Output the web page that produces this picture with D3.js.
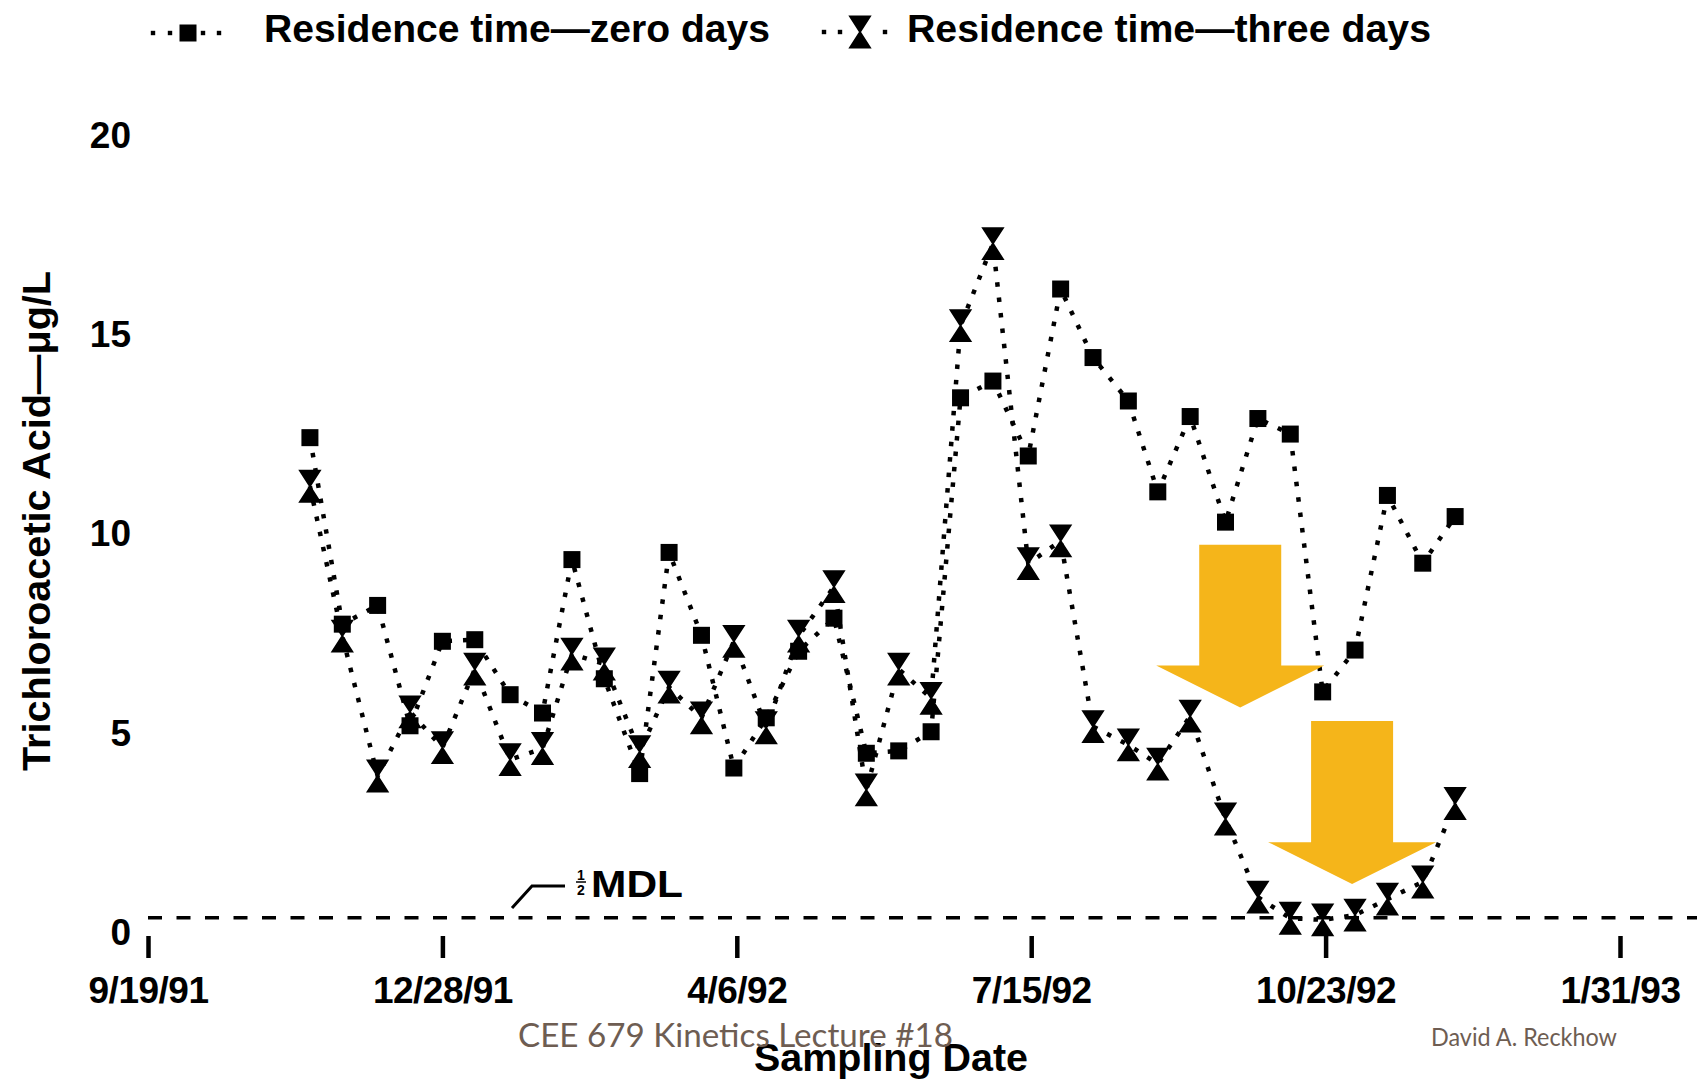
<!DOCTYPE html>
<html>
<head>
<meta charset="utf-8">
<script src="https://cdn.jsdelivr.net/npm/d3@7"></script>
<style>
  html, body { margin: 0; background: #fff; }
  svg { display: block; }
</style>
</head>
<body>
<svg id="chart" width="1697" height="1079"></svg>
<script>
// Trichloroacetic acid (µg/L) in distribution samples, two residence times
const sampleDates = [
  "11/13/91","11/24/91","12/6/91","12/17/91","12/28/91","1/8/92","1/20/92","1/31/92",
  "2/10/92","2/21/92","3/4/92","3/14/92","3/25/92","4/5/92","4/16/92","4/27/92",
  "5/9/92","5/20/92","5/31/92","6/11/92","6/21/92","7/2/92","7/14/92","7/25/92",
  "8/5/92","8/17/92","8/27/92","9/7/92","9/19/92","9/30/92","10/11/92","10/22/92",
  "11/2/92","11/13/92","11/25/92","12/6/92"
];
const zeroDays = [
  12.38, 7.7, 8.17, 5.15, 7.27, 7.31, 5.93, 5.47, 9.32, 6.33, 3.95, 9.5,
  7.42, 4.09, 5.35, 7.02, 7.85, 4.46, 4.52, 5.0, 13.38, 13.8, 11.92, 16.11,
  14.39, 13.3, 11.02, 12.91, 10.26, 12.86, 12.47, 6.0, 7.05, 10.93, 9.23, 10.4
];
const threeDays = [
  11.16, 7.4, 3.89, 5.5, 4.6, 6.57, 4.3, 4.58, 6.95, 6.7, 4.5, 6.12,
  5.35, 7.27, 5.1, 7.4, 8.64, 3.54, 6.57, 5.84, 15.19, 17.25, 9.22, 9.79,
  5.13, 4.67, 4.19, 5.39, 2.81, 0.85, 0.32, 0.28, 0.4, 0.8, 1.23, 3.2
];
const seriesNames = ["Residence time\u2014zero days", "Residence time\u2014three days"];
const xTickDates = ["9/19/91","12/28/91","4/6/92","7/15/92","10/23/92","1/31/93"];
const yTicks = [0, 5, 10, 15, 20];
const halfMDL = 0.33;
// highlight arrows: centre date, top of shaft, base of head, tip (µg/L)
const arrowDates = ["9/24/92", "11/1/92"];
const arrowTop = [9.69, 5.27];
const arrowBase = [6.66, 2.23];
const arrowTip = [5.61, 1.18];

const parse = d3.utcParse("%m/%d/%y");
const fmt = d3.utcFormat("%-m/%-d/%y");
const FONT = "'Liberation Sans', Arial, Helvetica, sans-serif";

const svg = d3.select("#chart");
svg.append("rect").attr("width", 1697).attr("height", 1079).attr("fill", "#fff");

const x = d3.scaleUtc()
  .domain([parse(xTickDates[0]), parse(xTickDates[xTickDates.length - 1])])
  .range([148, 1620]);
const y = d3.scaleLinear().domain([0, 20]).range([931, 134]);

const dates = sampleDates.map(parse);
const series = [
  { name: seriesNames[0], values: zeroDays, symbol: "square" },
  { name: seriesNames[1], values: threeDays, symbol: "hourglass" }
];

// marker shapes
const squareSize = 17;
function hourglassPath(w, h) {
  return `M${-w / 2},${-h / 2}H${w / 2}L0,0L${w / 2},${h / 2}H${-w / 2}L0,0Z`;
}
function drawSymbol(g, type) {
  if (type === "square") {
    g.append("rect").attr("x", -squareSize / 2).attr("y", -squareSize / 2)
      .attr("width", squareSize).attr("height", squareSize).attr("fill", "#000");
  } else {
    g.append("path").attr("d", hourglassPath(20, 31))
      .attr("fill", "#000").attr("stroke", "#000").attr("stroke-width", 1.8)
      .attr("stroke-linejoin", "miter");
  }
}

// ½ MDL reference line
svg.append("line")
  .attr("x1", x(parse(xTickDates[0]))).attr("x2", 1697)
  .attr("y1", y(halfMDL)).attr("y2", y(halfMDL))
  .attr("stroke", "#000").attr("stroke-width", 3.5)
  .attr("stroke-dasharray", "14 14.5");

// ½ MDL label with leader
svg.append("polyline")
  .attr("points", `512,908 532,886 565,886`)
  .attr("fill", "none").attr("stroke", "#000").attr("stroke-width", 3);
const frac = svg.append("g").attr("font-family", FONT).attr("font-weight", "bold")
  .attr("font-size", 14).attr("text-anchor", "middle");
frac.append("text").attr("x", 581).attr("y", 880).text("1");
frac.append("line").attr("x1", 576).attr("x2", 586).attr("y1", 882).attr("y2", 882)
  .attr("stroke", "#000").attr("stroke-width", 1.5);
frac.append("text").attr("x", 581).attr("y", 895).text("2");
svg.append("text").attr("x", 591).attr("y", 897)
  .attr("font-family", FONT).attr("font-weight", "bold").attr("font-size", 37)
  .attr("textLength", 92).attr("lengthAdjust", "spacingAndGlyphs")
  .text("MDL");

// series lines (dotted)
const line = d3.line().x((d, i) => x(dates[i])).y(d => y(d));
svg.append("g").selectAll("path").data(series).join("path")
  .attr("d", s => line(s.values))
  .attr("fill", "none").attr("stroke", "#000")
  .attr("stroke-width", 4.5).attr("stroke-dasharray", "4.5 11");

// markers
series.forEach(s => {
  svg.append("g").selectAll("g").data(s.values).join("g")
    .attr("transform", (d, i) => `translate(${x(dates[i])},${y(d)})`)
    .each(function () { drawSymbol(d3.select(this), s.symbol); });
});

// y axis labels
const yAxis = svg.append("g").attr("transform", "translate(131,0)")
  .call(d3.axisLeft(y).tickValues(yTicks).tickSize(0).tickPadding(0).tickFormat(d3.format("d")));
yAxis.select(".domain").remove();
yAxis.selectAll("text").attr("font-family", FONT).attr("font-weight", "bold")
  .attr("font-size", 37).attr("fill", "#000").attr("dy", "0.36em");

// x axis ticks and labels
const xAxis = svg.append("g").attr("transform", "translate(0,936)")
  .call(d3.axisBottom(x).tickValues(xTickDates.map(parse)).tickSize(22)
    .tickPadding(19).tickFormat(fmt));
xAxis.select(".domain").remove();
xAxis.selectAll(".tick line").attr("stroke", "#000").attr("stroke-width", 4.5);
xAxis.selectAll("text").attr("font-family", FONT).attr("font-weight", "bold")
  .attr("font-size", 37).attr("fill", "#000").attr("letter-spacing", -0.5);

// axis titles
svg.append("text")
  .attr("transform", "translate(50,521) rotate(-90)")
  .attr("text-anchor", "middle").attr("font-family", FONT).attr("font-weight", "bold")
  .attr("font-size", 39).attr("textLength", 500).attr("lengthAdjust", "spacingAndGlyphs")
  .text("Trichloroacetic Acid\u2014\u03bcg/L");
svg.append("text")
  .attr("x", 891).attr("y", 1071).attr("text-anchor", "middle")
  .attr("font-family", FONT).attr("font-weight", "bold").attr("font-size", 39)
  .attr("textLength", 274).attr("lengthAdjust", "spacingAndGlyphs")
  .text("Sampling Date");

// legend
const legendLayout = [
  { cx: 188, cy: 33, dots: [-35, -18, 15, 31], tx: 264, tw: 506 },
  { cx: 860, cy: 32, dots: [-36, -20, 25], tx: 907, tw: 524 }
];
series.forEach((s, i) => {
  const L = legendLayout[i];
  const g = svg.append("g");
  L.dots.forEach(dx => g.append("rect")
    .attr("x", L.cx + dx - 2.2).attr("y", L.cy - 2.2).attr("width", 4.4).attr("height", 4.4)
    .attr("fill", "#000"));
  drawSymbol(g.append("g").attr("transform", `translate(${L.cx},${L.cy})`), s.symbol);
  g.append("text").attr("x", L.tx).attr("y", 42)
    .attr("font-family", FONT).attr("font-weight", "bold").attr("font-size", 39)
    .attr("textLength", L.tw).attr("lengthAdjust", "spacingAndGlyphs")
    .text(s.name);
});

// footer credits
svg.append("text").attr("x", 518).attr("y", 1047)
  .attr("font-family", "Lato, 'Open Sans', sans-serif").attr("font-weight", 400)
  .attr("font-size", 33).attr("fill", "#6e5d52")
  .attr("textLength", 435).attr("lengthAdjust", "spacingAndGlyphs")
  .text("CEE 679 Kinetics Lecture #18");
svg.append("text").attr("x", 1431).attr("y", 1046)
  .attr("font-family", "Lato, 'Open Sans', sans-serif").attr("font-weight", 400)
  .attr("font-size", 25).attr("fill", "#6e5d52")
  .attr("textLength", 186).attr("lengthAdjust", "spacingAndGlyphs")
  .text("David A. Reckhow");

// highlight arrows
const shaftHalf = 41, headHalf = 84;
arrowDates.forEach((d, i) => {
  const cx = x(parse(d));
  const t = y(arrowTop[i]), b = y(arrowBase[i]), tip = y(arrowTip[i]);
  const pts = [
    [cx - shaftHalf, t], [cx + shaftHalf, t], [cx + shaftHalf, b], [cx + headHalf, b],
    [cx, tip], [cx - headHalf, b], [cx - shaftHalf, b]
  ];
  svg.append("polygon").attr("points", pts.map(p => p.join(",")).join(" "))
    .attr("fill", "#f5b51a");
});
</script>
</body>
</html>
